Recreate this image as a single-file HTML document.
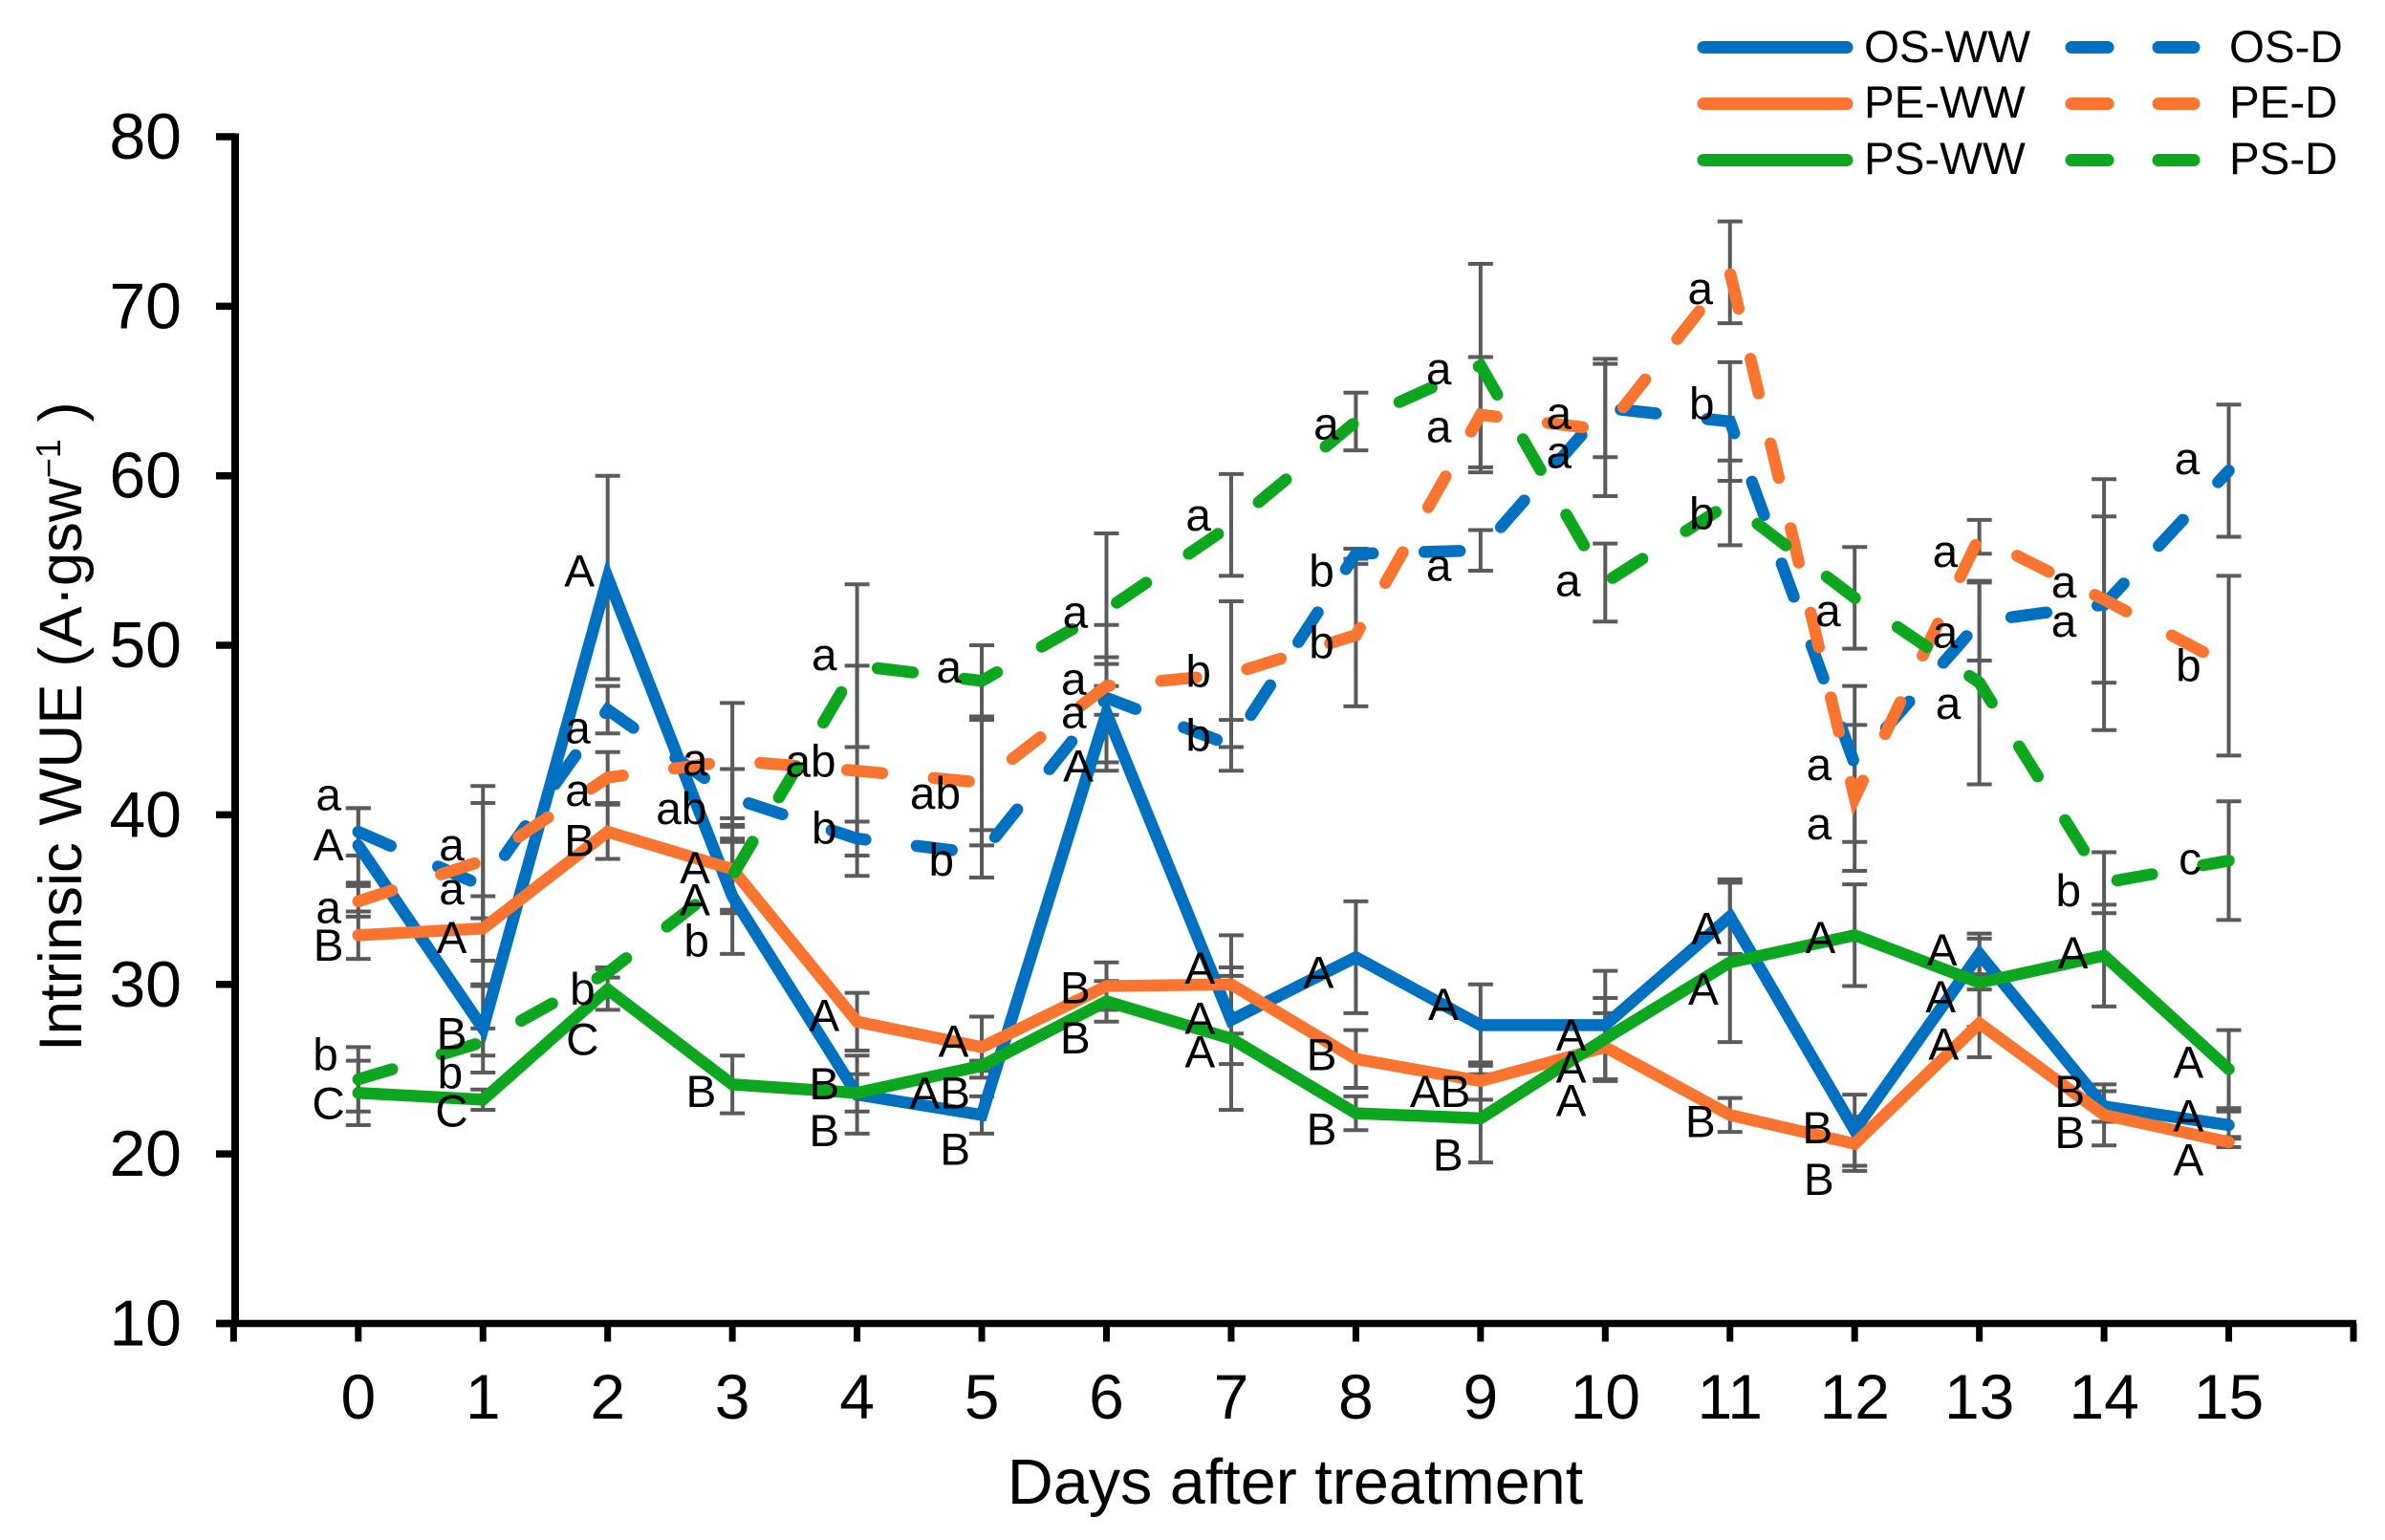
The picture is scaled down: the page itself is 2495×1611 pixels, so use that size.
<!DOCTYPE html>
<html lang="en">
<head>
<meta charset="utf-8">
<title>Intrinsic WUE chart</title>
<style>
html,body{margin:0;padding:0;background:#fff;}
svg{display:block;font-family:"Liberation Sans",Arial,sans-serif;}
</style>
</head>
<body>
<svg id="chart" xmlns="http://www.w3.org/2000/svg" width="2495" height="1611" viewBox="0 0 2495 1611">
  <rect width="2495" height="1611" fill="#fff"/>
  <g id="errors"></g>
  <g id="series"></g>
  <g id="axes"></g>
  <text x="85" y="1100" font-size="63.5" fill="#000" transform="rotate(-90 85 1100)">Intrinsic WUE (A·gsw<tspan font-size="36" dy="-22">−1</tspan><tspan dy="22"> )</tspan></text>
  <text x="1355" y="1573" font-size="66.5" fill="#000" text-anchor="middle">Days after treatment</text>

  <g font-size="47.5" fill="#000">
    <g stroke-width="13" stroke-linecap="round" fill="none">
      <line x1="1782" y1="49.5" x2="1932" y2="49.5" stroke="#0070c0"/>
      <line x1="1782" y1="108.5" x2="1932" y2="108.5" stroke="#f9752f"/>
      <line x1="1782" y1="167.5" x2="1932" y2="167.5" stroke="#0ca71e"/>
      <line x1="2167" y1="49.5" x2="2295" y2="49.5" stroke="#0070c0" stroke-dasharray="38 53"/>
      <line x1="2167" y1="108.5" x2="2295" y2="108.5" stroke="#f9752f" stroke-dasharray="38 53"/>
      <line x1="2167" y1="167.5" x2="2295" y2="167.5" stroke="#0ca71e" stroke-dasharray="38 53"/>
    </g>
    <text x="1950" y="65">OS-WW</text>
    <text x="1950" y="123">PE-WW</text>
    <text x="1950" y="182">PS-WW</text>
    <text x="2332" y="65">OS-D</text>
    <text x="2332" y="123">PE-D</text>
    <text x="2332" y="182">PS-D</text>
  </g>

  <g transform="scale(1.591)" font-size="30" fill="#000" text-anchor="middle" dominant-baseline="central">
    <text x="216" y="523">a</text>
    <text x="216" y="556">A</text>
    <text x="216" y="597">a</text>
    <text x="216" y="622">B</text>
    <text x="214" y="694">b</text>
    <text x="216" y="726">C</text>
    <text x="297" y="556">a</text>
    <text x="297" y="585">a</text>
    <text x="297" y="617">A</text>
    <text x="297" y="680">B</text>
    <text x="296" y="706">b</text>
    <text x="297" y="731">C</text>
    <text x="381" y="376">A</text>
    <text x="380" y="479">a</text>
    <text x="380" y="520">a</text>
    <text x="381" y="553">B</text>
    <text x="383" y="651">b</text>
    <text x="383" y="684">C</text>
    <text x="457" y="500">a</text>
    <text x="448" y="532">ab</text>
    <text x="457" y="571">A</text>
    <text x="457" y="592">A</text>
    <text x="458" y="619">b</text>
    <text x="461" y="718">B</text>
    <text x="542" y="431">a</text>
    <text x="533" y="501">ab</text>
    <text x="542" y="545">b</text>
    <text x="542" y="668">A</text>
    <text x="542" y="713">B</text>
    <text x="542" y="744">B</text>
    <text x="624" y="439">a</text>
    <text x="615" y="522">ab</text>
    <text x="619" y="566">b</text>
    <text x="627" y="685">A</text>
    <text x="618" y="719">AB</text>
    <text x="628" y="756">B</text>
    <text x="707" y="403">a</text>
    <text x="706" y="447">a</text>
    <text x="706" y="469">a</text>
    <text x="709" y="504">A</text>
    <text x="707" y="650">B</text>
    <text x="707" y="683">B</text>
    <text x="788" y="339">a</text>
    <text x="788" y="442">b</text>
    <text x="788" y="484">b</text>
    <text x="789" y="637">A</text>
    <text x="789" y="670">A</text>
    <text x="789" y="692">A</text>
    <text x="872" y="279">a</text>
    <text x="869" y="376">b</text>
    <text x="869" y="423">b</text>
    <text x="867" y="640">A</text>
    <text x="869" y="694">B</text>
    <text x="869" y="743">B</text>
    <text x="946" y="243">a</text>
    <text x="946" y="281">a</text>
    <text x="946" y="372">a</text>
    <text x="949" y="661">A</text>
    <text x="947" y="718">AB</text>
    <text x="952" y="760">B</text>
    <text x="1025" y="272">a</text>
    <text x="1025" y="298">a</text>
    <text x="1031" y="382">a</text>
    <text x="1033" y="681">A</text>
    <text x="1033" y="702">A</text>
    <text x="1033" y="724">A</text>
    <text x="1118" y="190">a</text>
    <text x="1119" y="266">b</text>
    <text x="1119" y="338">b</text>
    <text x="1122" y="611">A</text>
    <text x="1120" y="651">A</text>
    <text x="1118" y="738">B</text>
    <text x="1202" y="402">a</text>
    <text x="1196" y="503">a</text>
    <text x="1196" y="542">a</text>
    <text x="1197" y="617">A</text>
    <text x="1195" y="742">B</text>
    <text x="1196" y="776">B</text>
    <text x="1279" y="363">a</text>
    <text x="1279" y="416">a</text>
    <text x="1281" y="463">a</text>
    <text x="1277" y="625">A</text>
    <text x="1276" y="656">A</text>
    <text x="1278" y="687">A</text>
    <text x="1357" y="383">a</text>
    <text x="1357" y="409">a</text>
    <text x="1360" y="586">b</text>
    <text x="1363" y="627">A</text>
    <text x="1361" y="718">B</text>
    <text x="1361" y="745">B</text>
    <text x="1438" y="302">a</text>
    <text x="1439" y="438">b</text>
    <text x="1440" y="565">c</text>
    <text x="1439" y="699">A</text>
    <text x="1439" y="734">A</text>
    <text x="1439" y="763">A</text>
  </g>
</svg>
<script>
const days = [0,1,2,3,4,5,6,7,8,9,10,11,12,13,14,15];
const yTicks = [10,20,30,40,50,60,70,80];

const osWW = [38.2,27.4,54,35.2,23.5,22.3,46,27.9,31.6,27.6,27.6,34,21.4,31.8,22.8,21.7];
const peWW = [32.9,33.3,39,36.8,27.8,26.3,29.9,30,25.6,24.3,26.3,22.3,20.6,27.7,22.3,20.7];
const psWW = [23.6,23.2,29.7,24.1,23.6,25.2,29,26.8,22.4,22.1,26.8,31.3,32.9,30.1,31.7,25];
const osD = [39,35.8,46.2,41,38.6,37.7,46.9,44.1,55.4,55.6,64,63.2,43,51.4,52.4,60.3];
const peD = [34.9,37.3,42.2,43.2,42.6,41.9,47.6,48.3,50.6,63.6,62.7,72,41,56.4,52.7,48.8];
const psD = [24.4,26.6,30.7,36.4,48.8,47.9,52.1,57.1,63.2,66.5,53.7,58.4,52.8,47.8,36,37.3];

const osWWErr = [2.2,2.6,6,3.4,2.3,1.1,2.9,2.6,3.3,2.4,3.2,2.2,2.1,1.2,0.9,0.8];
const peWWErr = [1.4,1.9,1.6,2.6,1.7,1.8,1.4,2.9,1.7,1.1,2,1,1.6,2,1.8,0.3];
const psWWErr = [1.9,0.6,1.2,1.7,1.1,0.3,1.2,4.2,1,2.6,2.4,4.7,3,2.6,3,2.3];
const osDErr = [1.4,5.9,1.4,1.7,1,1.4,4.3,1.5,0.3,1.2,2.9,3.5,4.6,2.3,7.4,3.9];
const peDErr = [0.9,3.4,1.5,3.4,6.2,3.7,1.7,4.3,4.2,3.4,3.9,3,4.3,1,4.9,5.3];
const psDErr = [1.9,0.8,0.3,2,4.8,2.1,4.5,3,1.7,6,2.3,2.5,3,6,1.8,3.5];

const NS = 'http://www.w3.org/2000/svg';
function xScale(d){ return 374.8 + d * 130.45; }
function yScale(v){ return 1384.5 - (v - 10) * 17.736; }
function make(tag, parent, props){
  const el = document.createElementNS(NS, tag);
  for (const k in props) el.setAttribute(k, props[k]);
  parent.appendChild(el);
  return el;
}

const seriesList = [
  {key:'os-ww', values:osWW, errs:osWWErr, color:'#0070c0', dash:null},
  {key:'pe-ww', values:peWW, errs:peWWErr, color:'#f9752f', dash:null},
  {key:'ps-ww', values:psWW, errs:psWWErr, color:'#0ca71e', dash:null},
  {key:'os-d', values:osD, errs:osDErr, color:'#0070c0', dash:'37 54'},
  {key:'pe-d', values:peD, errs:peDErr, color:'#f9752f', dash:'37 54'},
  {key:'ps-d', values:psD, errs:psDErr, color:'#0ca71e', dash:'37 54'}
];

const errGroup = document.getElementById('errors');
const serGroup = document.getElementById('series');
const axGroup = document.getElementById('axes');

seriesList.forEach(function(s){
  s.values.forEach(function(v, i){
    const px = xScale(days[i]);
    const hi = yScale(v + s.errs[i]);
    const lo = yScale(v - s.errs[i]);
    const bar = make('path', errGroup, {
      d: 'M' + px + ' ' + hi + 'V' + lo + 'M' + (px-13) + ' ' + hi + 'H' + (px+13) + 'M' + (px-13) + ' ' + lo + 'H' + (px+13),
      fill: 'none', stroke: '#5a5a5a', 'stroke-width': 4
    });
    
    
  });
  const pts = s.values.map(function(v, i){ return xScale(days[i]) + ',' + yScale(v); }).join(' ');
  const line = make('polyline', serGroup, {
    points: pts, fill: 'none', stroke: s.color, 'stroke-width': 12.5,
    'stroke-linecap': 'round', 'stroke-linejoin': 'miter', 'stroke-miterlimit': 6
  });
  if (s.dash) line.setAttribute('stroke-dasharray', s.dash);
  
  
});

const yAxisLine = make('line', axGroup, {x1:246, y1:yScale(80)-3.5, x2:246, y2:yScale(10)+3.5, stroke:'#000', 'stroke-width':8});


const xAxisLine = make('line', axGroup, {x1:226, y1:yScale(10), x2:xScale(16)+3, y2:yScale(10), stroke:'#000', 'stroke-width':7.5});



yTicks.forEach(function(t){
  const py = yScale(t);
  const mark = make('line', axGroup, {x1:226, y1:py, x2:246, y2:py, stroke:'#000', 'stroke-width':7.5});
  
  
  const label = make('text', axGroup, {x:190, y:py+23, 'font-size':68, 'text-anchor':'end', fill:'#000'});
  label.textContent = t;
  
  
});

[-1].concat(days).concat([16]).forEach(function(d){
  const px = xScale(d);
  const mark = make('line', axGroup, {x1:px, y1:yScale(10), x2:px, y2:yScale(10)+19, stroke:'#000', 'stroke-width':7});
  
  
});

days.forEach(function(d){
  const label = make('text', axGroup, {x:xScale(d), y:1484, 'font-size':66, 'text-anchor':'middle', fill:'#000'});
  label.textContent = d;
  
  
});
</script>
</body>
</html>
